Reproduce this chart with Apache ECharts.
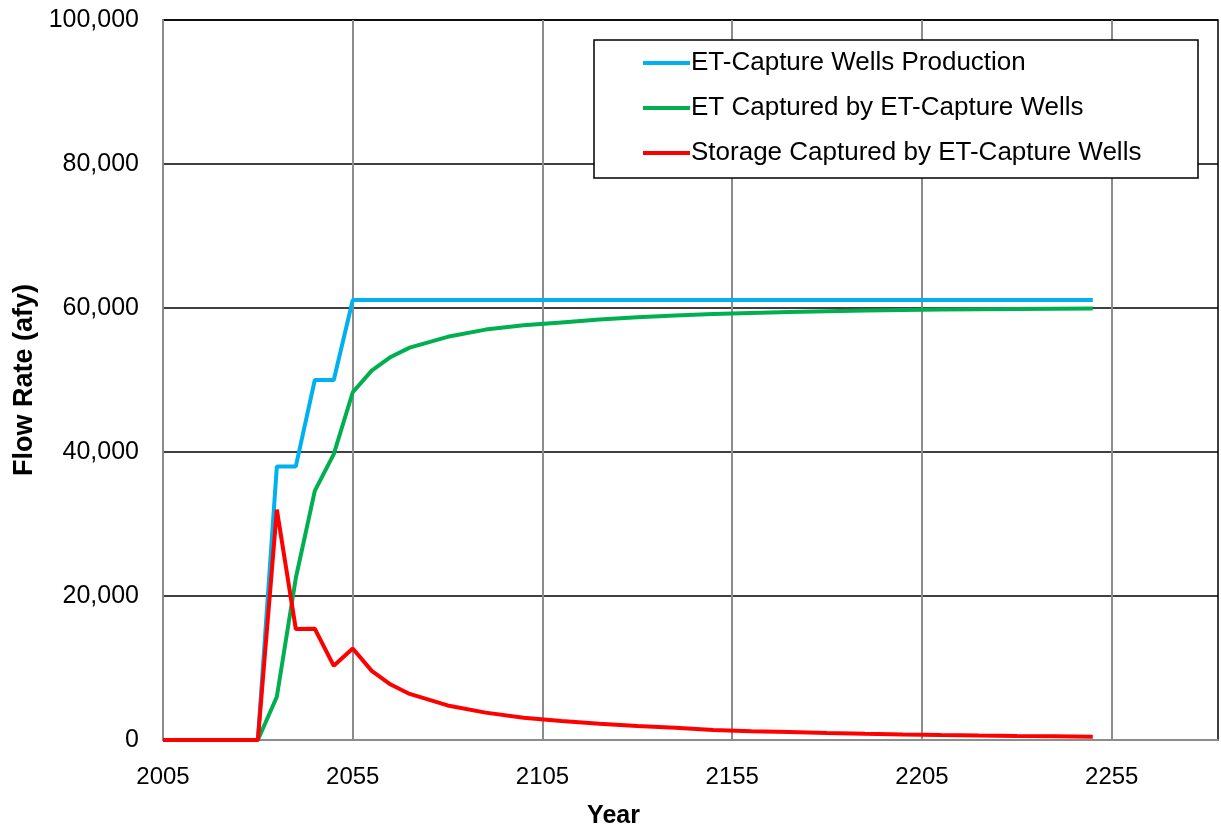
<!DOCTYPE html>
<html>
<head>
<meta charset="utf-8">
<script src="https://cdn.jsdelivr.net/npm/echarts@6/dist/echarts.min.js"></script>
<style>
  html, body { margin: 0; padding: 0; background: #fff; }
  #chart { width: 1221px; height: 831px; }
</style>
</head>
<body>
<div id="chart"></div>
<script>
// Simulation years (5-year steps early on, 10-year steps later)
const years = [2005, 2010, 2015, 2020, 2025, 2030, 2035, 2040, 2045, 2050, 2055, 2060, 2065, 2070,
  2080, 2090, 2100, 2110, 2120, 2130, 2140, 2150, 2160, 2170, 2180, 2190, 2200, 2210, 2220, 2230, 2240, 2250];

// Flow rates in acre-feet per year
const wellsProduction = [0, 0, 0, 0, 0, 0, 38000, 38000, 50000, 50000, 61100, 61100, 61100, 61100,
  61100, 61100, 61100, 61100, 61100, 61100, 61100, 61100, 61100, 61100, 61100, 61100, 61100, 61100, 61100, 61100, 61100, 61100];
const etCaptured = [0, 0, 0, 0, 0, 0, 6000, 22500, 34600, 39700, 48300, 51300, 53200, 54500,
  56000, 57000, 57600, 58000, 58400, 58700, 58950, 59150, 59300, 59450, 59550, 59650, 59720, 59780, 59830, 59870, 59900, 59930];
const storageCaptured = [0, 0, 0, 0, 0, 0, 32000, 15400, 15450, 10300, 12700, 9600, 7700, 6400,
  4800, 3800, 3100, 2650, 2250, 1950, 1700, 1400, 1220, 1100, 970, 860, 770, 690, 620, 560, 510, 460];

const seriesNames = ['ET-Capture Wells Production', 'ET Captured by ET-Capture Wells', 'Storage Captured by ET-Capture Wells'];
const seriesColors = ['#00B0F0', '#00B050', '#FF0000'];

// The year axis starts at 2005 with gridlines every 50 years
const BASE_YEAR = 2005;
const YEAR_END = 2283;
const yTickStep = 20000;

const FONT = '"Liberation Sans", Arial, sans-serif';

function toPairs(values) {
  return years.map((y, i) => [y - BASE_YEAR, values[i]]);
}

const chart = echarts.init(document.getElementById('chart'), null, { renderer: 'canvas' });

chart.setOption({
  animation: false,
  backgroundColor: '#fff',
  textStyle: { fontFamily: FONT },
  grid: {
    left: 163, right: 3, top: 20, bottom: 91,
    outerBoundsMode: 'none',
    show: true, borderColor: '#000', borderWidth: 1.5, backgroundColor: '#fff'
  },
  graphic: [{
    type: 'rect',
    shape: { x: 594, y: 40, width: 604, height: 138 },
    style: { fill: '#fff', stroke: '#000', lineWidth: 1.5 },
    z: 90
  }],
  legend: {
    orient: 'vertical',
    left: 643, top: 50,
    padding: 0,
    icon: 'rect',
    itemWidth: 47, itemHeight: 4,
    itemGap: 19,
    z: 100,
    textStyle: { fontFamily: FONT, fontSize: 26, color: '#000', lineHeight: 26, padding: [0, 0, 0, -4] },
    data: seriesNames
  },
  xAxis: {
    type: 'value',
    min: 0, max: YEAR_END - BASE_YEAR, interval: 50,
    name: 'Year', nameLocation: 'middle', nameGap: 64,
    nameTextStyle: { fontFamily: FONT, fontSize: 25, fontWeight: 'bold', color: '#000', padding: [0, 154, 0, 0] },
    axisLine: { show: true, lineStyle: { color: '#8c8c8c', width: 2 } },
    axisTick: { show: false },
    axisLabel: {
      margin: 25, fontSize: 24, color: '#000', fontFamily: FONT, showMaxLabel: false,
      formatter: v => (v % 50 === 0 ? String(v + BASE_YEAR) : '')
    },
    splitLine: { show: true, showMinLine: false, showMaxLine: false, lineStyle: { color: '#8c8c8c', width: 2 } }
  },
  yAxis: {
    type: 'value',
    min: 0, max: 100000, interval: yTickStep,
    name: 'Flow Rate (afy)', nameLocation: 'middle', nameGap: 124,
    nameTextStyle: { fontFamily: FONT, fontSize: 27, fontWeight: 'bold', color: '#000' },
    axisLine: { show: true, lineStyle: { color: '#8c8c8c', width: 2 } },
    axisTick: { show: false },
    axisLabel: {
      margin: 24, fontSize: 25, color: '#000', fontFamily: FONT,
      formatter: v => v.toLocaleString('en-US')
    },
    splitLine: { show: true, showMinLine: false, lineStyle: { color: '#000', width: 1.5 } }
  },
  series: [wellsProduction, etCaptured, storageCaptured].map((vals, i) => ({
    name: seriesNames[i],
    type: 'line',
    data: toPairs(vals),
    showSymbol: false,
    symbol: 'none',
    color: seriesColors[i],
    lineStyle: { color: seriesColors[i], width: 4 },
    z: 3 + i
  }))
});
</script>
</body>
</html>
